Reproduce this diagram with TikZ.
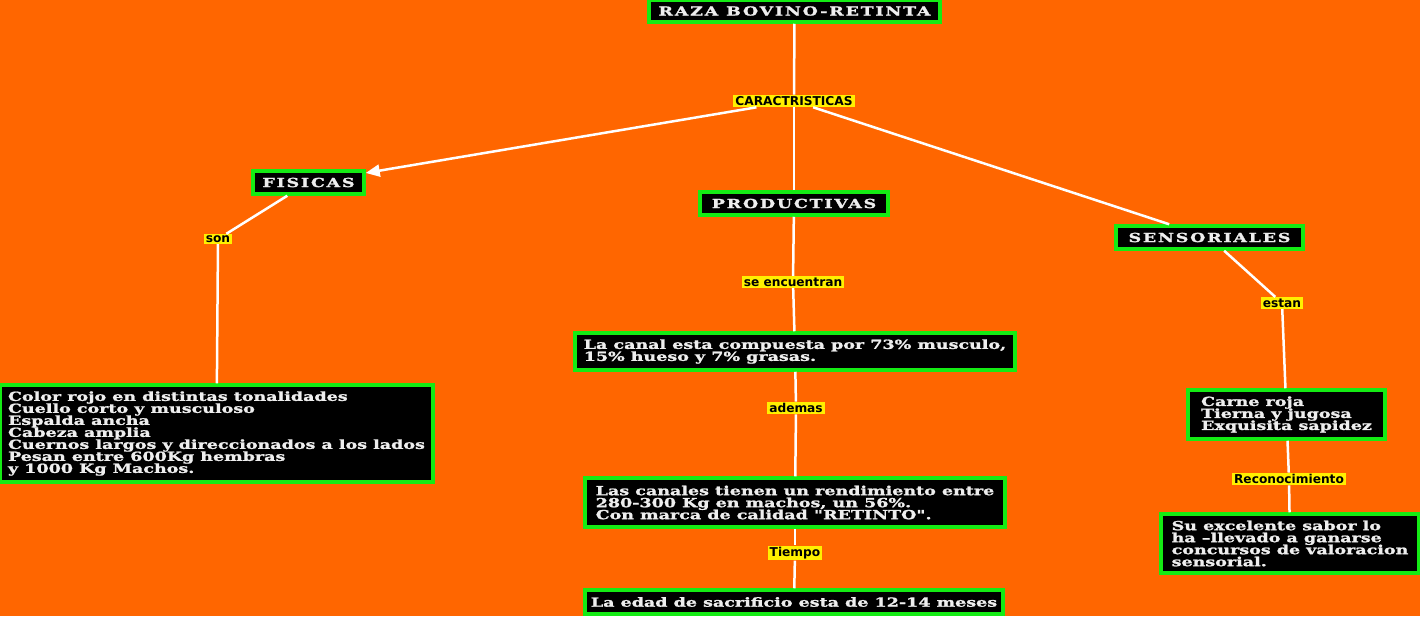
\documentclass[tikz,border=0pt]{standalone}
\usepackage{fontspec}
\usepackage{xcolor}
\usepackage{tikz}
\usetikzlibrary{arrows.meta}
\newfontfamily\boxfont[FakeStretch=1.4,FakeBold=1.5]{DejaVu Serif Bold}
\newfontfamily\headfont[FakeStretch=1.4,FakeBold=1.5,LetterSpace=14]{DejaVu Serif Bold}
\newfontfamily\linkfont{DejaVu Sans Bold}
\newcommand\maplines{\lineskiplimit -20pt\relax}
\definecolor{mapbg}{RGB}{255,102,0}
\definecolor{mapgreen}{RGB}{20,235,20}
\definecolor{mapyellow}{RGB}{255,240,0}
\definecolor{maptext}{RGB}{238,238,238}
\tikzset{
  mapbox/.style={
    rectangle,
    fill=black,
    draw=mapgreen,
    line width=3.5pt,
    align=left,
    inner xsep=5pt,
    inner ysep=3pt,
    text=maptext,
    font=\boxfont\fontsize{12.5}{12}\selectfont\maplines
  },
  maphead/.style={
    mapbox,
    align=center,
    font=\headfont\fontsize{12.5}{12}\selectfont
  },
  maplink/.style={
    rectangle,
    fill=mapyellow,
    inner xsep=2pt,
    inner ysep=1.5pt,
    text=black,
    font=\linkfont\fontsize{12.2}{12}\selectfont
  },
  mapline/.style={
    line width=2.5pt,
    draw=white
  },
  maparrow/.style={
    mapline,
    -{Triangle[length=14pt,width=12pt]}
  }
}
\begin{document}
\begin{tikzpicture}[x=1pt,y=-1pt]
\fill[mapbg] (0,0) rectangle (1420,616);
\useasboundingbox (0,0) rectangle (1420,616);
% concepts
\node[maphead, minimum width=291, minimum height=22] (raza) at (794.5,11) {RAZA BOVINO-RETINTA};
\node[maphead, minimum width=111, minimum height=23] (fisicas) at (308.5,182.5) {FISICAS};
\node[maphead, minimum width=188, minimum height=23] (productivas) at (794,203.5) {PRODUCTIVAS};
\node[maphead, minimum width=187, minimum height=23] (sensoriales) at (1209.5,237.5) {SENSORIALES};
\node[mapbox, minimum width=433, minimum height=97] (rasgos) at (216.5,433.5) {Color rojo en distintas tonalidades\\Cuello corto y musculoso\\Espalda ancha\\Cabeza amplia\\Cuernos largos y direccionados a los lados\\Pesan entre 600Kg hembras\\y 1000 Kg Machos.};
\node[mapbox, minimum width=440, minimum height=37] (canal) at (795,351.5) {La canal esta compuesta por 73\% musculo,\\15\% hueso y 7\% grasas.};
\node[mapbox, minimum width=420, minimum height=49] (rendimiento) at (795,502.5) {Las canales tienen un rendimiento entre\\280-300 Kg en machos, un 56\%.\\Con marca de calidad "RETINTO".};
\node[mapbox, minimum width=418, minimum height=24] (edad) at (794,602) {La edad de sacrificio esta de 12-14 meses};
\node[mapbox, minimum width=197, minimum height=49] (carne) at (1286.5,414.5) {Carne roja\\Tierna y jugosa\\Exquisita sapidez};
\node[mapbox, minimum width=258, minimum height=59] (sabor) at (1290,543.5) {Su excelente sabor lo\\ha –llevado a ganarse\\concursos de valoracion\\sensorial.};
% linking phrases
\node[maplink] (caract) at (794,101) {CARACTRISTICAS};
\node[maplink] (son) at (218,239) {son};
\node[maplink] (encuentran) at (793,282) {se encuentran};
\node[maplink] (estan) at (1282,303) {estan\ };
\node[maplink] (ademas) at (796,408) {ademas};
\node[maplink] (tiempo) at (795,553) {Tiempo};
\node[maplink] (recono) at (1289,479) {Reconocimiento};
% connectors
\draw[mapline] (raza) -- (caract);
\draw[maparrow] (caract) -- (fisicas);
\draw[mapline] (caract) -- (productivas);
\draw[mapline] (caract) -- (sensoriales);
\draw[mapline] (fisicas) -- (son);
\draw[mapline] (son) -- (rasgos);
\draw[mapline] (productivas) -- (encuentran);
\draw[mapline] (encuentran) -- (canal);
\draw[mapline] (canal) -- (ademas);
\draw[mapline] (ademas) -- (rendimiento);
\draw[mapline] (rendimiento) -- (tiempo);
\draw[mapline] (tiempo) -- (edad);
\draw[mapline] (sensoriales) -- (estan);
\draw[mapline] (estan) -- (carne);
\draw[mapline] (carne) -- (recono);
\draw[mapline] (recono) -- (sabor);
\end{tikzpicture}
\end{document}
